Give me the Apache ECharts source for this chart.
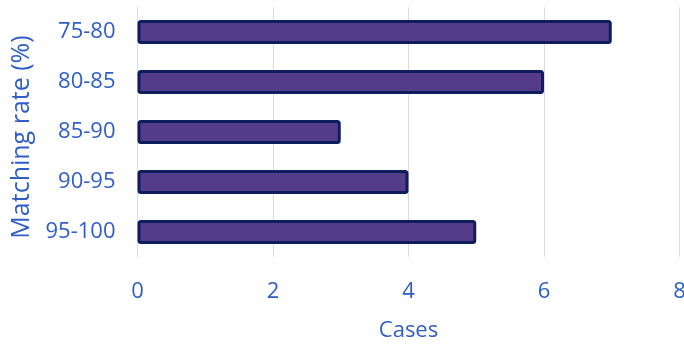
<!DOCTYPE html>
<html>
<head>
<meta charset="utf-8">
<script src="https://cdn.jsdelivr.net/npm/echarts@6/dist/echarts.min.js"></script>
<style>html,body{margin:0;padding:0;background:#fff;}#c{width:684px;height:345px;}</style>
</head>
<body>
<div id="c"></div>
<script>
const categories = ['75-80', '80-85', '85-90', '90-95', '95-100'];
const cases = [7, 6, 3, 4, 5];
const xTicks = { min: 0, max: 8, interval: 2 };

const textColor = '#2f5ec6';
const fontFamily = '"Open Sans", sans-serif';
const chart = echarts.init(document.getElementById('c'));
chart.setOption({
  animation: false,
  backgroundColor: '#ffffff',
  grid: { left: 137.5, right: 4.5, top: 7, bottom: 88, containLabel: false, outerBoundsMode: 'none' },
  xAxis: {
    type: 'value', min: xTicks.min, max: xTicks.max, interval: xTicks.interval,
    name: 'Cases', nameLocation: 'middle', nameGap: 63,
    nameTextStyle: { color: textColor, fontSize: 22, fontFamily },
    axisLine: { show: false }, axisTick: { show: false },
    axisLabel: { color: textColor, fontSize: 22, fontFamily, margin: 24, showMaxLabel: true },
    splitLine: { show: true, lineStyle: { color: '#d9dce6', width: 1 } }
  },
  yAxis: {
    type: 'category', data: categories, inverse: true,
    name: 'Matching rate (%)', nameLocation: 'middle', nameGap: 90,
    nameTextStyle: { color: textColor, fontSize: 25, fontFamily, padding: [0, 10, 0, 0] },
    axisLine: { show: true, lineStyle: { color: '#d9dce6', width: 1 } },
    axisTick: { show: false },
    axisLabel: { color: textColor, fontSize: 22, fontFamily, margin: 22 }
  },
  series: [{
    type: 'bar', data: cases, barWidth: 24,
    itemStyle: { color: '#543c8a', borderColor: '#0e1d5c', borderWidth: 3, borderRadius: 2 }
  }]
});
</script>
</body>
</html>
